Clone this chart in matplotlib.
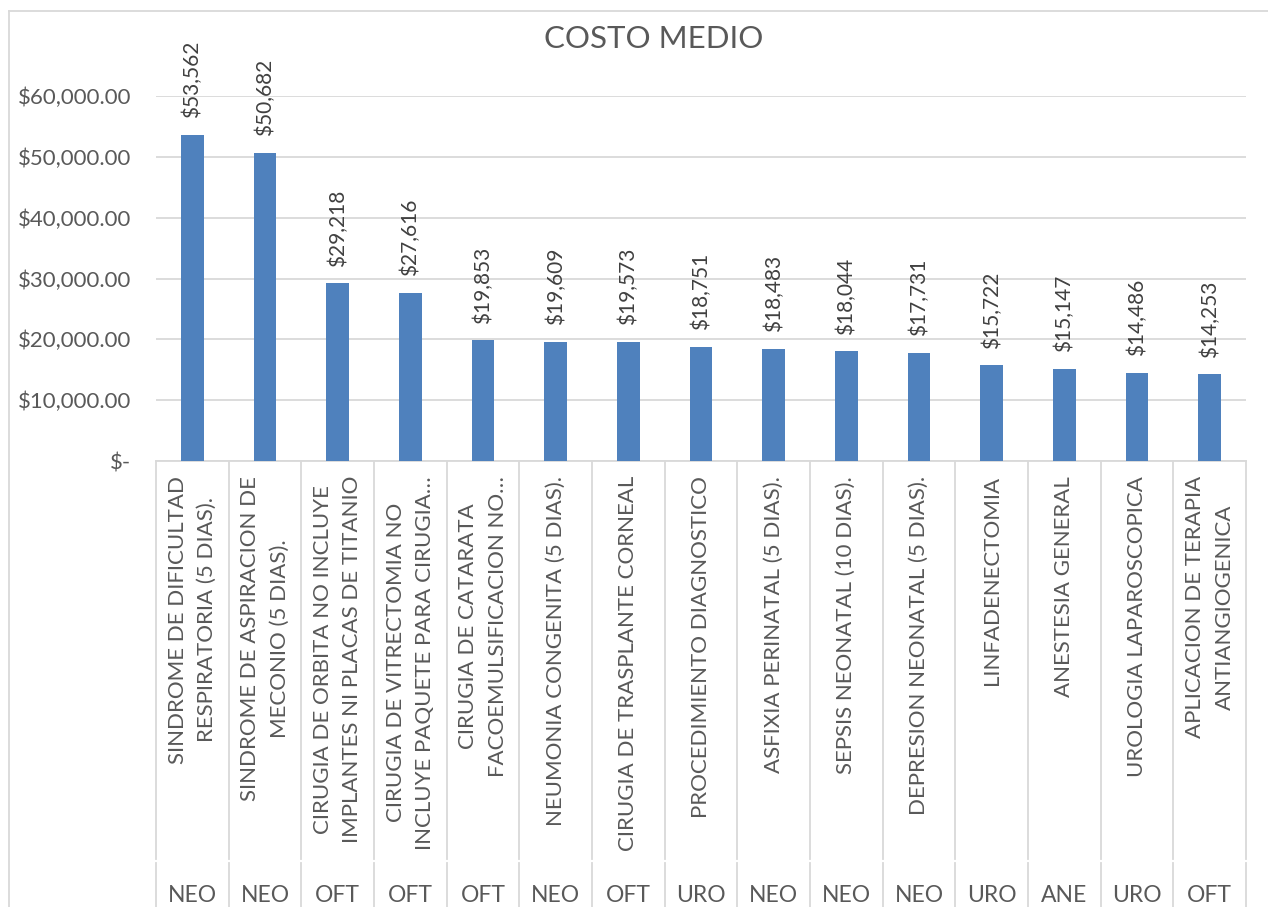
import matplotlib.pyplot as plt
from matplotlib.lines import Line2D

plt.rcParams['font.family'] = ['Lato', 'DejaVu Sans']

# datos
procedimientos = [
    'SINDROME DE DIFICULTAD\nRESPIRATORIA (5 DIAS).',
    'SINDROME DE ASPIRACION DE\nMECONIO (5 DIAS).',
    'CIRUGIA DE ORBITA NO INCLUYE\nIMPLANTES NI PLACAS DE TITANIO',
    'CIRUGIA DE VITRECTOMIA NO\nINCLUYE PAQUETE PARA CIRUGIA…',
    'CIRUGIA DE CATARATA\nFACOEMULSIFICACION NO…',
    'NEUMONIA CONGENITA (5 DIAS).',
    'CIRUGIA DE TRASPLANTE CORNEAL',
    'PROCEDIMIENTO DIAGNOSTICO',
    'ASFIXIA PERINATAL (5 DIAS).',
    'SEPSIS NEONATAL (10 DIAS).',
    'DEPRESION NEONATAL (5 DIAS).',
    'LINFADENECTOMIA',
    'ANESTESIA GENERAL',
    'UROLOGIA LAPAROSCOPICA',
    'APLICACION DE TERAPIA\nANTIANGIOGENICA',
]
servicios = ['NEO', 'NEO', 'OFT', 'OFT', 'OFT', 'NEO', 'OFT', 'URO',
             'NEO', 'NEO', 'NEO', 'URO', 'ANE', 'URO', 'OFT']
costo_medio = [53562, 50682, 29218, 27616, 19853, 19609, 19573, 18751,
               18483, 18044, 17731, 15722, 15147, 14486, 14253]

W, H = 1268, 907
gris_txt = '#595959'
gris_lin = '#D9D9D9'

fig = plt.figure(figsize=(W / 100, H / 100), dpi=100)

# area de trazado en pixeles
x0, x1 = 156, 1246
y_cero, y_top = 461, 96
ax = fig.add_axes([x0 / W, (H - y_cero) / H, (x1 - x0) / W, (y_cero - y_top) / H])

n = len(costo_medio)
pos = list(range(n))
ax.bar(pos, costo_medio, width=0.31, color='#4F81BD', zorder=3)
ax.set_xlim(-0.5, n - 0.5)
ax.set_ylim(0, 60000)

ax.set_yticks(range(0, 60001, 10000))
ax.set_yticklabels(['$-'] + [f'${v:,.2f}' for v in range(10000, 60001, 10000)],
                   fontsize=16, color=gris_txt)
ax.tick_params(axis='y', length=0, pad=18)
ax.set_xticks([])
ax.grid(axis='y', color=gris_lin, linewidth=1.3, zorder=0)
for s in ['top', 'right', 'left']:
    ax.spines[s].set_visible(False)
ax.spines['bottom'].set_color(gris_lin)
ax.spines['bottom'].set_linewidth(1.3)

# etiquetas de datos
for p, v in zip(pos, costo_medio):
    ax.annotate(f'${v:,}', (p, v), xytext=(0, 12), textcoords='offset points',
                rotation=90, ha='center', va='bottom', fontsize=15,
                color='#404040', annotation_clip=False)

# eje de categorias de dos niveles
ancho = (x1 - x0) / n
for i in range(n + 1):
    xs = (x0 + i * ancho) / W
    fig.add_artist(Line2D([xs, xs], [(H - y_cero) / H, (H - 859) / H],
                          color=gris_lin, linewidth=1.3))
    fig.add_artist(Line2D([xs, xs], [(H - 863) / H, 0],
                          color=gris_lin, linewidth=1.3))
for i in range(n):
    xc = (x0 + (i + 0.5) * ancho) / W
    fig.text(xc, (H - 476) / H, procedimientos[i], rotation=90, ha='center',
             va='top', multialignment='center', fontsize=16, color=gris_txt,
             linespacing=1.6)
    fig.text(xc, (H - 902) / H, servicios[i], ha='center', va='baseline',
             fontsize=16.5, color=gris_txt)

# titulo y borde del grafico
fig.text(654 / W, (H - 39) / H, 'COSTO MEDIO', ha='center', va='center',
         fontsize=22.5, color=gris_txt)
fig.add_artist(Line2D([9 / W, 1], [(H - 11) / H] * 2, color=gris_lin, linewidth=1.3))
fig.add_artist(Line2D([9 / W] * 2, [(H - 11) / H, 0], color=gris_lin, linewidth=1.3))

fig.savefig('out.png', dpi=100)
